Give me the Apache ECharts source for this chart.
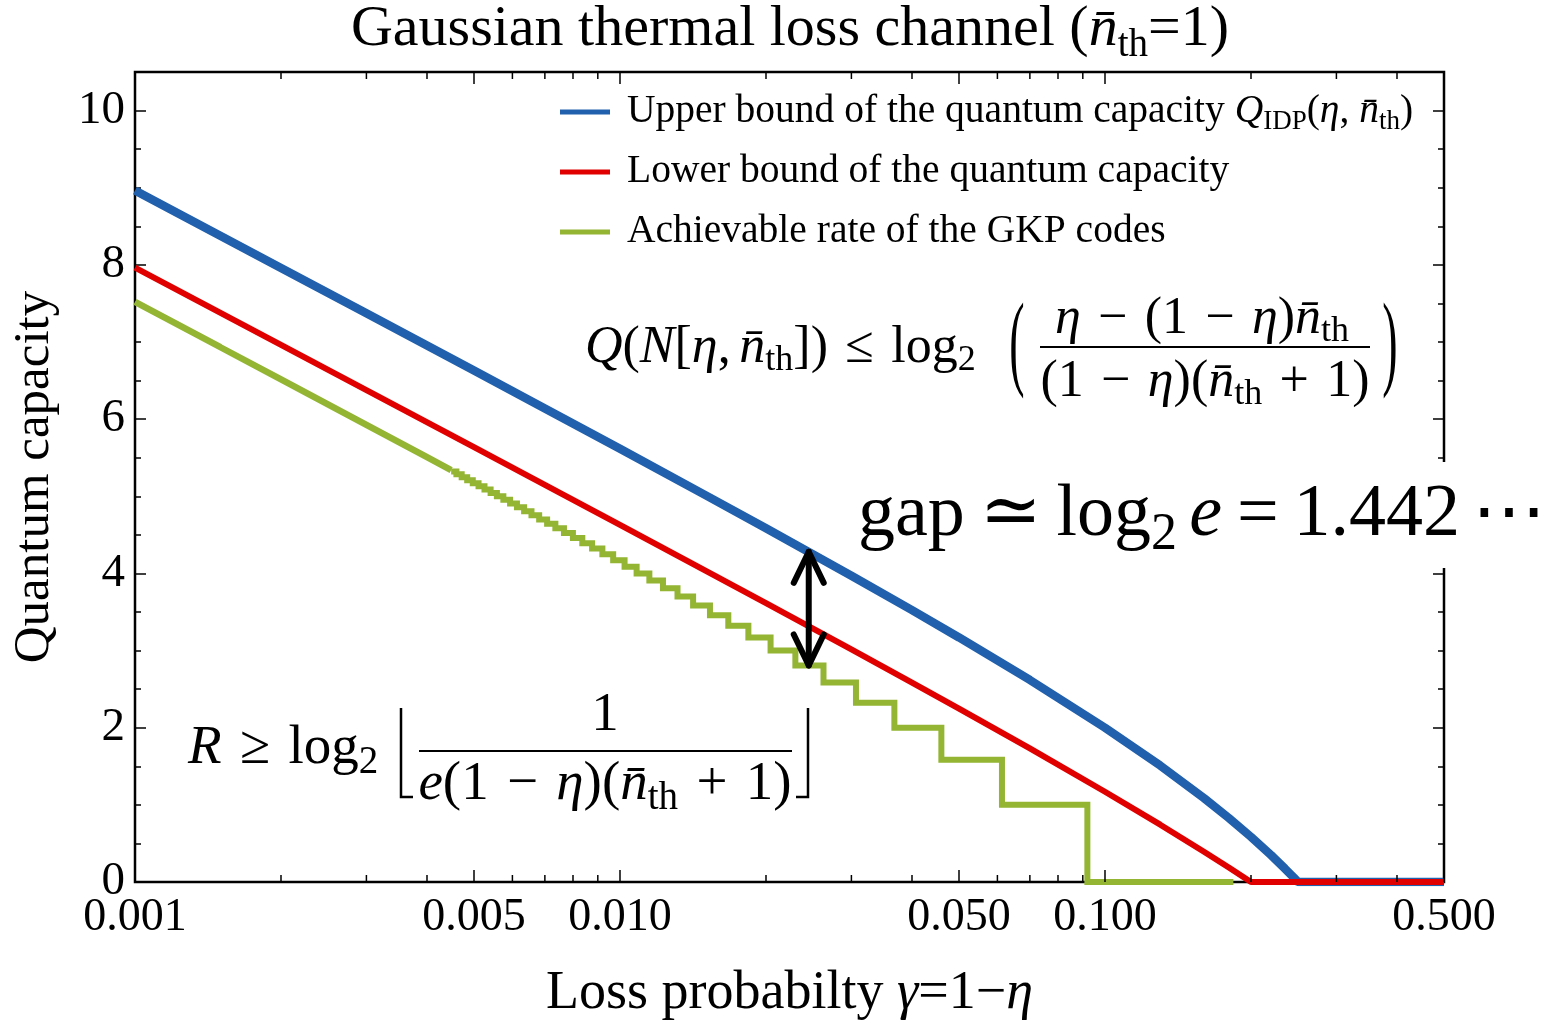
<!DOCTYPE html>
<html>
<head>
<meta charset="utf-8">
<script src="https://cdn.jsdelivr.net/npm/echarts@6/dist/echarts.min.js"></script>
<style>
  html, body { margin: 0; padding: 0; background: #fff; }
  #chart { width: 1553px; height: 1020px; }
</style>
</head>
<body>
<div id="chart"></div>
<script>
const SERIF = '"Liberation Serif", "Times New Roman", "DejaVu Serif", serif';
const BLUE = '#2160ad';
const RED = '#e00000';
const GREEN = '#93b533';

// Upper bound of the quantum capacity (bits per use) against loss probability gamma
const upperGamma = [0.001, 0.002, 0.003, 0.005, 0.007, 0.01, 0.015, 0.02, 0.03, 0.04, 0.05, 0.07, 0.1, 0.13, 0.16, 0.18, 0.2, 0.22, 0.235, 0.245, 0.25, 0.5];
const upperBound = [8.963, 7.960, 7.372, 6.630, 6.138, 5.615, 5.015, 4.585, 3.970, 3.524, 3.170, 2.619, 2.000, 1.509, 1.087, 0.830, 0.585, 0.348, 0.173, 0.058, 0, 0];

// Lower bound of the quantum capacity
const lowerGamma = [0.001, 0.002, 0.003, 0.005, 0.007, 0.01, 0.015, 0.02, 0.03, 0.04, 0.05, 0.07, 0.1, 0.13, 0.16, 0.18, 0.2, 0.5];
const lowerBound = [7.964, 6.963, 6.377, 5.637, 5.148, 4.630, 4.037, 3.615, 3.015, 2.585, 2.248, 1.732, 1.170, 0.743, 0.392, 0.188, 0, 0];

// GKP achievable rate: very fine staircase at small loss, drawn as a line
const gkpFineGamma = [0.001, 0.0015, 0.002, 0.003, 0.004, 0.004486];
const gkpFineRate = [7.519, 6.932, 6.515, 5.926, 5.507, 5.340];

// GKP achievable rate: left edge of each plateau and its level
const gkpStepGamma = [0.004486, 0.004599, 0.004716, 0.004841, 0.004971, 0.005109, 0.005255, 0.005410, 0.005574, 0.005748,
  0.005934, 0.006131, 0.006343, 0.006569, 0.006813, 0.007075, 0.007358, 0.007664, 0.007997, 0.008361,
  0.008759, 0.009197, 0.009681, 0.010219, 0.010820, 0.011496, 0.012263, 0.013139, 0.014149, 0.015328,
  0.016722, 0.018394, 0.020438, 0.022993, 0.026277, 0.030657, 0.036788, 0.045985, 0.061313, 0.091970, 0.183940];
const gkpStepRate = [5.322, 5.285, 5.248, 5.209, 5.170, 5.129, 5.087, 5.044, 5.000, 4.954,
  4.907, 4.858, 4.807, 4.755, 4.700, 4.644, 4.585, 4.524, 4.459, 4.392,
  4.322, 4.248, 4.170, 4.087, 4.000, 3.907, 3.807, 3.700, 3.585, 3.459,
  3.322, 3.170, 3.000, 2.807, 2.585, 2.322, 2.000, 1.585, 1.000, 0.000, 0.000];

// Axis ticks
const xMajorTicks = [0.001, 0.005, 0.01, 0.05, 0.1, 0.5];
const xMajorLabels = ['0.001', '0.005', '0.010', '0.050', '0.100', '0.500'];
const xMinorTicks = [0.002, 0.003, 0.004, 0.006, 0.007, 0.008, 0.009, 0.02, 0.03, 0.04, 0.06, 0.07, 0.08, 0.09, 0.2, 0.3, 0.4];

// Double arrow marking the gap: gamma, top end (upper bound), bottom end (GKP rate)
const gapArrow = [0.0245, 4.28, 2.807];

const NAME_UP = 'Upper bound of the quantum capacity Q_IDP(η, n̄_th)';
const NAME_LO = 'Lower bound of the quantum capacity';
const NAME_GKP = 'Achievable rate of the GKP codes';

const pair = (xs, ys) => xs.map((x, i) => [x, ys[i]]);

function mathRich(fs, lh, drop) {
  return {
    it: { fontFamily: SERIF, fontStyle: 'italic', fontSize: fs, lineHeight: lh, fill: '#000', color: '#000' },
    rm: { fontFamily: SERIF, fontSize: fs, lineHeight: lh, fill: '#000', color: '#000' },
    sub: { fontFamily: SERIF, fontSize: Math.round(fs * 0.7), lineHeight: lh - 2 * drop, verticalAlign: 'bottom', fill: '#000', color: '#000' }
  };
}

function mathText(x, y, text, fs, lh, drop, align) {
  return {
    type: 'text', x: x, y: y, z: 100, silent: true,
    style: {
      text: text, fontFamily: SERIF, fontSize: fs, lineHeight: lh, fill: '#000',
      align: align || 'left', verticalAlign: 'middle', rich: mathRich(fs, lh, drop)
    }
  };
}

function rule(x1, y1, x2, y2, w) {
  return { type: 'line', z: 100, silent: true, shape: { x1, y1, x2, y2 }, style: { stroke: '#000', lineWidth: w } };
}

function bigGlyph(x, y, ch, fs, sy) {
  return {
    type: 'text', x: x, y: y, z: 100, silent: true, scaleY: sy,
    style: { text: ch, fontFamily: SERIF, fontSize: fs, fill: '#000', align: 'center', verticalAlign: 'middle' }
  };
}

const R3 = '\u2004';  // relation / operator space
const TH = '\u2009';  // thin space
const T6 = '\u2006';  // sixth-em space

const graphics = [
  // title
  {
    type: 'text', x: 790, y: 30, z: 100, silent: true,
    style: {
      text: 'Gaussian thermal loss channel ({it|n\u0304}{sub|th}=1)',
      fontFamily: SERIF, fontSize: 58, lineHeight: 70, fill: '#000', align: 'center', verticalAlign: 'middle',
      rich: {
        it: { fontFamily: SERIF, fontStyle: 'italic', fontSize: 58, lineHeight: 70, fill: '#000' },
        sub: { fontFamily: SERIF, fontSize: 39, lineHeight: 70 - 36, verticalAlign: 'bottom', fill: '#000' }
      }
    }
  },
  // upper-bound formula
  mathText(585, 348, '{it|Q}({it|N}[{it|η},' + T6 + '{it|n\u0304}{sub|th}])' + R3 + '≤' + R3 + 'log{sub|2}', 52, 62, 12),
  bigGlyph(1017, 348, '(', 46, 2.3),
  mathText(1202, 319, '{it|η}' + R3 + '−' + R3 + '(1' + R3 + '−' + R3 + '{it|η}){it|n\u0304}{sub|th}', 52, 62, 12, 'center'),
  rule(1040, 347, 1370, 347, 2),
  mathText(1205, 382, '(1' + R3 + '−' + R3 + '{it|η})({it|n\u0304}{sub|th}' + R3 + '+' + R3 + '1)', 52, 62, 12, 'center'),
  bigGlyph(1390, 348, ')', 46, 2.3),
  // gap statement on a white card over the frame
  { type: 'rect', z: 99, silent: true, shape: { x: 855, y: 462, width: 700, height: 106 }, style: { fill: '#fff' } },
  mathText(858, 516, 'gap' + TH + '≃' + TH + 'log{sub|2}' + T6 + '{it|e}' + TH + '=' + TH + '1.442' + T6 + '⋯', 74, 90, 17),
  // GKP rate formula
  mathText(188, 749, '{it|R}' + R3 + '≥' + R3 + 'log{sub|2}', 55, 66, 13),
  { type: 'polyline', z: 100, silent: true, shape: { points: [[401, 708], [401, 797], [413, 797]] }, style: { stroke: '#000', lineWidth: 2.5, fill: null } },
  mathText(605, 716, '1', 55, 66, 13, 'center'),
  rule(419, 751, 792, 751, 2),
  mathText(605, 785, '{it|e}(1' + R3 + '−' + R3 + '{it|η})({it|n\u0304}{sub|th}' + R3 + '+' + R3 + '1)', 55, 66, 13, 'center'),
  { type: 'polyline', z: 100, silent: true, shape: { points: [[796, 797], [808, 797], [808, 708]] }, style: { stroke: '#000', lineWidth: 2.5, fill: null } }
];

const xTickData = xMajorTicks.map((v, i) => [v, 1, i]).concat(xMinorTicks.map(v => [v, 0, -1]));

function renderXTick(params, api) {
  const v = api.value(0);
  const major = api.value(1) === 1;
  const cs = params.coordSys;
  const x = api.coord([v, 0])[0];
  const yb = cs.y + cs.height;
  const yt = cs.y;
  const len = major ? 12 : 7;
  const st = { stroke: '#000', lineWidth: 1.5 };
  const children = [
    { type: 'line', shape: { x1: x, y1: yb, x2: x, y2: yb - len }, style: st },
    { type: 'line', shape: { x1: x, y1: yt, x2: x, y2: yt + len }, style: st }
  ];
  if (major) {
    children.push({
      type: 'text', x: x, y: yb + 36,
      style: { text: xMajorLabels[api.value(2)], fontFamily: SERIF, fontSize: 46, fill: '#000', align: 'center', verticalAlign: 'middle' }
    });
  }
  return { type: 'group', children: children };
}

function renderArrow(params, api) {
  const top = api.coord([api.value(0), api.value(1)]);
  const bot = api.coord([api.value(0), api.value(2)]);
  const hw = 15, hl = 31;
  const st = { stroke: '#000', lineWidth: 6, lineCap: 'round', lineJoin: 'round', fill: null };
  return {
    type: 'group',
    children: [
      { type: 'line', shape: { x1: top[0], y1: top[1], x2: bot[0], y2: bot[1] }, style: st },
      { type: 'polyline', shape: { points: [[top[0] - hw, top[1] + hl], top, [top[0] + hw, top[1] + hl]] }, style: st },
      { type: 'polyline', shape: { points: [[bot[0] - hw, bot[1] - hl], bot, [bot[0] + hw, bot[1] - hl]] }, style: st }
    ]
  };
}

const yAxisCommon = {
  type: 'value', min: 0, max: 10.5, interval: 2,
  axisLine: { show: false },
  splitLine: { show: false },
  axisTick: { show: true, inside: true, length: 11, lineStyle: { color: '#000', width: 1.5 } },
  minorTick: { show: true, splitNumber: 4, length: 6, lineStyle: { color: '#000', width: 1.5 } }
};

const chart = echarts.init(document.getElementById('chart'), null, { renderer: 'canvas' });

chart.setOption({
  animation: false,
  backgroundColor: '#fff',
  grid: {
    left: 135, right: 109, top: 72, bottom: 138,
    show: true, borderColor: '#000', borderWidth: 2.5, backgroundColor: 'transparent',
    containLabel: false, outerBoundsMode: 'none'
  },
  legend: {
    orient: 'vertical', left: 560, top: 89, padding: 0, itemGap: 14,
    itemWidth: 50, itemHeight: 5, icon: 'rect', selectedMode: false,
    data: [NAME_UP, NAME_LO, NAME_GKP],
    formatter: function (n) {
      if (n === NAME_UP) {
        return '{gap| }Upper bound of the quantum capacity {it|Q}{sub|IDP}({it|η}, {it|n\u0304}{sub|th})';
      }
      return '{gap| }' + n;
    },
    textStyle: {
      fontFamily: SERIF, fontSize: 39.5, lineHeight: 46, color: '#000',
      rich: {
        gap: { width: 12, fontSize: 39.5, lineHeight: 46 },
        it: { fontFamily: SERIF, fontStyle: 'italic', fontSize: 39.5, lineHeight: 46, color: '#000' },
        sub: { fontFamily: SERIF, fontSize: 27, lineHeight: 46 - 20, verticalAlign: 'bottom', color: '#000' }
      }
    }
  },
  xAxis: {
    type: 'log', min: 0.001, max: 0.5,
    axisLine: { show: false }, axisTick: { show: false }, axisLabel: { show: false },
    splitLine: { show: false }, minorTick: { show: false },
    name: 'Loss probabilty {it|γ}=1−{it|η}', nameLocation: 'middle', nameGap: 82,
    nameTextStyle: {
      fontFamily: SERIF, fontSize: 54, lineHeight: 60, color: '#000',
      rich: { it: { fontFamily: SERIF, fontStyle: 'italic', fontSize: 54, lineHeight: 60, color: '#000' } }
    }
  },
  yAxis: [
    Object.assign({}, yAxisCommon, {
      position: 'left',
      axisLabel: {
        show: true, margin: 10, fontFamily: SERIF, fontSize: 47, color: '#000',
        formatter: v => (v % 2 === 0 ? String(v) : '')
      },
      name: 'Quantum capacity', nameLocation: 'middle', nameGap: 70,
      nameTextStyle: { fontFamily: SERIF, fontSize: 51, lineHeight: 60, color: '#000' }
    }),
    Object.assign({}, yAxisCommon, { position: 'right', axisLabel: { show: false } })
  ],
  series: [
    {
      name: NAME_UP, type: 'line', data: pair(upperGamma, upperBound), symbol: 'none',
      lineStyle: { color: BLUE, width: 8.5 }, itemStyle: { color: BLUE }, z: 2
    },
    {
      name: NAME_LO, type: 'line', data: pair(lowerGamma, lowerBound), symbol: 'none',
      lineStyle: { color: RED, width: 6 }, itemStyle: { color: RED }, z: 3
    },
    {
      name: NAME_GKP, type: 'line', data: pair(gkpFineGamma, gkpFineRate), symbol: 'none',
      lineStyle: { color: GREEN, width: 6.5 }, itemStyle: { color: GREEN }, z: 4
    },
    {
      name: NAME_GKP, type: 'line', step: 'end', data: pair(gkpStepGamma, gkpStepRate), symbol: 'none',
      lineStyle: { color: GREEN, width: 6, join: 'miter' }, itemStyle: { color: GREEN }, z: 4
    },
    {
      type: 'custom', name: 'xticks', data: xTickData, renderItem: renderXTick,
      encode: { x: 0, y: 1 }, clip: false, silent: true, z: 5
    },
    {
      type: 'custom', name: 'gap', data: [gapArrow], renderItem: renderArrow,
      encode: { x: 0, y: [1, 2] }, clip: false, silent: true, z: 10
    }
  ],
  graphic: graphics
});
</script>
</body>
</html>
